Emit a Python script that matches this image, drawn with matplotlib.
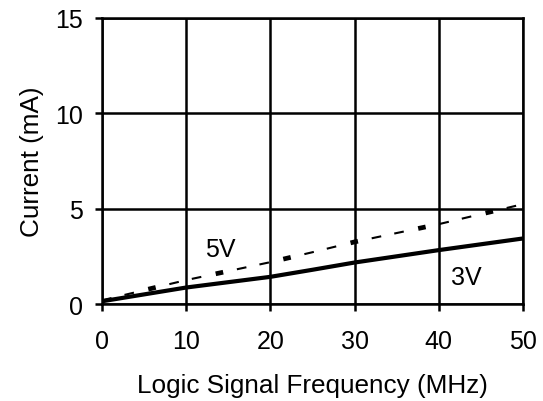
import matplotlib.pyplot as plt

plt.rcParams['font.family'] = ['Liberation Sans', 'DejaVu Sans']
plt.rcParams['lines.scale_dashes'] = False

freq = [0, 10, 20, 25, 30, 40, 50]
i_3v = [0.15, 0.87, 1.43, 1.80, 2.18, 2.83, 3.44]
i_5v = [0.20, 1.26, 2.20, 2.72, 3.26, 4.19, 5.24]

fig = plt.figure(figsize=(5.43, 4.02), dpi=100)
ax = fig.add_axes([0.188, 0.241, 0.775, 0.712])

# 5V curve: thin dashes with a short thick dash every third slot
ax.plot(freq, i_5v, color='black', lw=1.5, dash_capstyle='butt',
        linestyle=(0, (7, 9.6, 7, 26.2)))
ax.plot(freq, i_5v, color='black', lw=3.4, dash_capstyle='butt',
        linestyle=(15.6, (5.5, 44.3)))
ax.plot(freq, i_3v, color='black', lw=3, solid_capstyle='butt')

ax.text(14.0, 2.9, '5V', fontsize=18, ha='center', va='center')
ax.text(43.3, 1.4, '3V', fontsize=18, ha='center', va='center')

ax.set_xlim(0, 50)
ax.set_ylim(0, 15)
ax.set_xticks([0, 10, 20, 30, 40, 50])
ax.set_yticks([0, 5, 10, 15])
ax.grid(True, color='black', lw=1.8)
for s in ax.spines.values():
    s.set_linewidth(1.8)
ax.tick_params(length=5, width=1.8, labelsize=18)
ax.tick_params(axis='x', pad=13)
ax.tick_params(axis='y', pad=9)
ax.set_xlabel('Logic Signal Frequency (MHz)', fontsize=18.8, labelpad=14)
ax.set_ylabel('Current (mA)', fontsize=18.8, labelpad=8)

fig.savefig('out.png', dpi=100)
